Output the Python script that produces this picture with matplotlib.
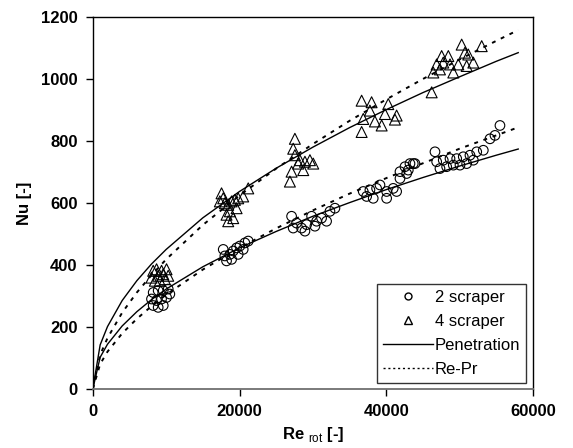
import matplotlib
matplotlib.use("Agg")
import matplotlib.pyplot as plt
from matplotlib.lines import Line2D

plt.rcParams['font.family'] = ['Liberation Sans', 'DejaVu Sans']
plt.rcParams['mathtext.fontset'] = 'custom'
plt.rcParams['mathtext.rm'] = 'Liberation Sans'
plt.rcParams['mathtext.bf'] = 'Liberation Sans:bold'

# ---- data: 2 scraper (circles) ----
re_2s = [8230, 8910, 9600, 10280, 8000, 8690, 9370, 10050, 8230, 8910, 9600, 10500,
         17780, 18000, 18230, 18690, 19140, 19600, 20050, 20730, 21190, 18920, 19820, 20500,
         27100, 27780, 28460, 29150, 29830, 30510, 31190, 31870, 32330, 33010, 27320, 28920, 30280,
         36870, 37780, 38690, 39150, 40060, 40960, 37330, 38230, 40060, 41420, 41880, 42790, 43690, 43010,
         42560, 43240, 41880, 43920, 46650, 46880, 47780, 48700, 49610, 50510, 51420, 52340, 53240,
         54150, 54830, 55510, 47330, 48240, 49150, 50060, 50970, 51880]
nu_2s = [311, 317, 317, 322, 290, 285, 290, 295, 269, 263, 269, 306,
         450, 429, 413, 434, 445, 455, 461, 471, 477, 418, 434, 450,
         557, 535, 519, 530, 557, 541, 551, 541, 573, 583, 519, 509, 525,
         637, 642, 647, 658, 637, 647, 621, 615, 615, 637, 679, 695, 727, 706,
         717, 727, 701, 727, 765, 733, 738, 743, 743, 749, 754, 765, 770,
         807, 818, 850, 711, 717, 722, 722, 727, 738]

# ---- data: 4 scraper (triangles) ----
re_4s = [8230, 8690, 9370, 10050, 8000, 8460, 9140, 9820, 10280, 9600, 8910,
         17550, 17780, 17320, 18000, 18460, 18920, 19370, 19820, 20500, 21190, 18690, 18460, 19140, 19600, 18230,
         27550, 27320, 27550, 28230, 28920, 29600, 30050, 27100, 26870, 28690, 28000,
         36650, 38010, 40280, 37780, 36870, 38460, 39380, 36650, 41420, 41190, 39830,
         50290, 53020, 47560, 48470, 50740, 51190, 46880, 47780, 48700, 49830, 51880,
         46420, 47330, 49150, 50970, 46200]
nu_4s = [381, 386, 381, 386, 359, 349, 349, 354, 365, 370, 365,
         631, 615, 605, 599, 594, 605, 610, 615, 621, 647, 573, 541, 551, 583, 562,
         807, 775, 754, 738, 733, 738, 727, 701, 669, 706, 727,
         930, 925, 919, 898, 871, 863, 850, 829, 882, 869, 887,
         1111, 1106, 1074, 1074, 1085, 1079, 1047, 1053, 1047, 1047, 1053,
         1021, 1031, 1021, 1042, 957]

# ---- model curves ----
re_curve = [0, 1000, 2000, 4000, 6000, 8000, 10000, 15000, 20000, 25000, 30000,
            35000, 40000, 45000, 50000, 55000, 58000]
nu_pen_4s = [0, 142, 201, 285, 349, 403, 450, 552, 637, 712, 780, 843, 901, 956, 1007, 1057, 1085]
nu_repr_4s = [0, 110, 164, 246, 311, 367, 418, 529, 624, 711, 790, 865, 934, 1000, 1063, 1123, 1158]
nu_pen_2s = [0, 102, 144, 203, 249, 288, 322, 394, 455, 508, 557, 601, 643, 682, 719, 754, 774]
nu_repr_2s = [0, 80, 120, 179, 226, 267, 304, 385, 455, 518, 576, 630, 680, 728, 775, 818, 844]

x_ticks = [0, 20000, 40000, 60000]
y_ticks = [0, 200, 400, 600, 800, 1000, 1200]

fig = plt.figure(figsize=(5.73, 4.48), dpi=100)
ax = fig.add_axes([0.162, 0.132, 0.768, 0.830])

dotted = (0, (2.0, 3.0))
ax.plot(re_curve, nu_pen_4s, color='black', lw=1.0)
ax.plot(re_curve, nu_repr_4s, color='black', lw=1.4, linestyle=dotted)
ax.plot(re_curve, nu_pen_2s, color='black', lw=1.0)
ax.plot(re_curve, nu_repr_2s, color='black', lw=1.4, linestyle=dotted)

ax.scatter(re_2s, nu_2s, s=48, marker='o', facecolors='none', edgecolors='black', linewidths=0.8, zorder=3)
ax.scatter(re_4s, nu_4s, s=62, marker='^', facecolors='none', edgecolors='black', linewidths=0.8, zorder=3)

ax.set_xlim(0, 60000)
ax.set_ylim(0, 1200)
ax.set_xticks(x_ticks)
ax.set_yticks(y_ticks)
ax.set_xticklabels([str(v) for v in x_ticks], fontsize=12, fontweight='bold')
ax.set_yticklabels([str(v) for v in y_ticks], fontsize=12, fontweight='bold')
ax.tick_params(direction='out', length=5, width=1, pad=6)
for s in ['top', 'right', 'left']:
    ax.spines[s].set_linewidth(1.0)
ax.spines['bottom'].set_color('#707070')
ax.spines['bottom'].set_linewidth(1.3)
ax.tick_params(axis='x', colors='black')

ax.set_xlabel('Re $_{\\rm rot}$ [-]', fontsize=12, fontweight='bold', labelpad=4)
ax.set_ylabel('Nu [-]', fontsize=12, fontweight='bold', labelpad=6)

handles = [
    Line2D([], [], marker='o', linestyle='none', markerfacecolor='none', markeredgecolor='black', markersize=5),
    Line2D([], [], marker='^', linestyle='none', markerfacecolor='none', markeredgecolor='black', markersize=6),
    Line2D([], [], color='black', lw=1.0),
    Line2D([], [], color='black', lw=1.0, linestyle=(0, (1.5, 2.0))),
]
labels = ['2 scraper', '4 scraper', 'Penetration', 'Re-Pr']
leg = ax.legend(handles, labels, loc='lower right', bbox_to_anchor=(0.984, 0.016),
                fontsize=12, frameon=True, fancybox=False, handlelength=3.0,
                handletextpad=0.1, borderpad=0.35, labelspacing=0.55, borderaxespad=0)
leg.get_frame().set_edgecolor('black')
leg.get_frame().set_linewidth(1.0)

fig.savefig('out.png', dpi=100)
